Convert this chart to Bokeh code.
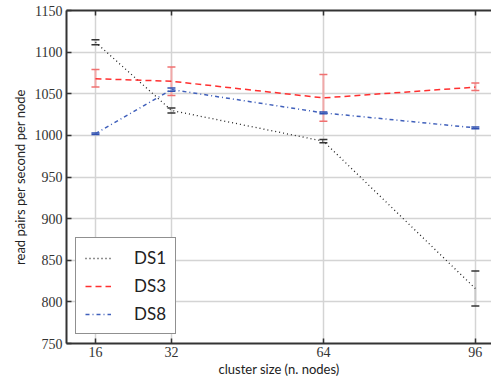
from bokeh.plotting import figure
from bokeh.models import (ColumnDataSource, Whisker, TeeHead, FixedTicker, LinearAxis,
                          Legend, LegendItem, Range1d)
from bokeh.embed import file_html
from bokeh.resources import INLINE

# ---- data ----
nodes = [16, 32, 64, 96]
ds1 = [1112, 1030, 993, 816]
ds1_lo = [1109, 1027, 991, 795]
ds1_hi = [1115, 1033, 995, 837]
ds3 = [1068, 1065, 1045, 1058]
ds3_lo = [1058, 1048, 1017, 1054]
ds3_hi = [1079, 1082, 1073, 1063]
ds8 = [1002, 1055, 1027, 1009]
ds8_lo = [1001, 1053, 1026, 1008]
ds8_hi = [1003, 1057, 1028, 1010]
x_ticks = [16, 32, 64, 96]
y_ticks = [750, 800, 850, 900, 950, 1000, 1050, 1100, 1150]

TICK_FONT = "Liberation Serif"
SANS = "Lato"

p = figure(width=491, height=379, output_backend="svg", toolbar_location=None,
           x_range=Range1d(9.9, 99.4), y_range=Range1d(750, 1150),
           min_border_left=66, min_border_right=0, min_border_top=10, min_border_bottom=0)
p.outline_line_color = None
p.background_fill_color = "white"
p.border_fill_color = "white"

for ax in (p.xaxis[0], p.yaxis[0]):
    ax.axis_line_color = "#333333"
    ax.axis_line_width = 2
    ax.major_tick_line_color = "#333333"
    ax.major_tick_line_width = 1.5
    ax.major_tick_in = 5
    ax.major_tick_out = 0
    ax.minor_tick_line_color = None
    ax.major_label_text_font = TICK_FONT
    ax.major_label_text_font_size = "14px"
    ax.major_label_text_color = "#333333"
    ax.axis_label_text_font = SANS
    ax.axis_label_text_font_style = "normal"
    ax.axis_label_text_font_size = "13px"
    ax.axis_label_text_color = "#222222"

p.xaxis.ticker = FixedTicker(ticks=x_ticks)
p.yaxis.ticker = FixedTicker(ticks=y_ticks)
p.xaxis.axis_label = "cluster size (n. nodes)"
p.yaxis.axis_label = "read pairs per second per node"
p.xaxis.major_label_standoff = 3
p.yaxis.major_label_standoff = 4
p.xaxis.axis_label_standoff = 1
p.yaxis.axis_label_standoff = 4

top = LinearAxis(ticker=FixedTicker(ticks=x_ticks), axis_line_color="#333333", axis_line_width=2,
                 major_tick_in=5, major_tick_out=0, major_tick_line_color="#333333",
                 major_tick_line_width=1.5, minor_tick_line_color=None,
                 major_label_text_font_size="1px", major_label_standoff=0)
top.major_label_overrides = {t: "" for t in x_ticks}
p.add_layout(top, "above")

p.xgrid.ticker = FixedTicker(ticks=x_ticks)
p.ygrid.ticker = FixedTicker(ticks=y_ticks)
p.grid.grid_line_color = "#d4d4d4"
p.grid.grid_line_width = 1.5

def errbars(lo, hi, base, body, head):
    src = ColumnDataSource(dict(x=base, lo=lo, hi=hi))
    w = Whisker(source=src, base="x", lower="lo", upper="hi", dimension="height",
                line_color=body, line_width=2,
                upper_head=TeeHead(size=8, line_color=head, line_width=1.5),
                lower_head=TeeHead(size=8, line_color=head, line_width=1.5))
    p.add_layout(w)

errbars(ds1_lo, ds1_hi, nodes, "#c8c8c8", "#333333")
errbars(ds3_lo, ds3_hi, nodes, "#f0a8a8", "#f07070")
errbars(ds8_lo, ds8_hi, nodes, "#a8b8e0", "#3050b0")

r1 = p.line(nodes, ds1, line_color="#222222", line_width=1.3, line_dash="1 3")
r3 = p.line(nodes, ds3, line_color="#ff3030", line_width=1.5, line_dash="6 4")
r8 = p.line(nodes, ds8, line_color="#4060bb", line_width=1.5, line_dash="4 3 1 3")

legend = Legend(items=[LegendItem(label="DS1", renderers=[r1]),
                       LegendItem(label="DS3", renderers=[r3]),
                       LegendItem(label="DS8", renderers=[r8])],
                location=(9, 9), orientation="vertical")
legend.border_line_color = "#222222"
legend.border_line_width = 1.2
legend.background_fill_color = "white"
legend.background_fill_alpha = 1.0
legend.label_text_font = SANS
legend.label_text_font_size = "17px"
legend.label_text_color = "#222222"
legend.glyph_width = 26
legend.glyph_height = 16
legend.spacing = 7
legend.padding = 9
legend.margin = 0
legend.label_standoff = 23
p.add_layout(legend, "center")

open("out.html", "w").write(file_html(p, INLINE))
